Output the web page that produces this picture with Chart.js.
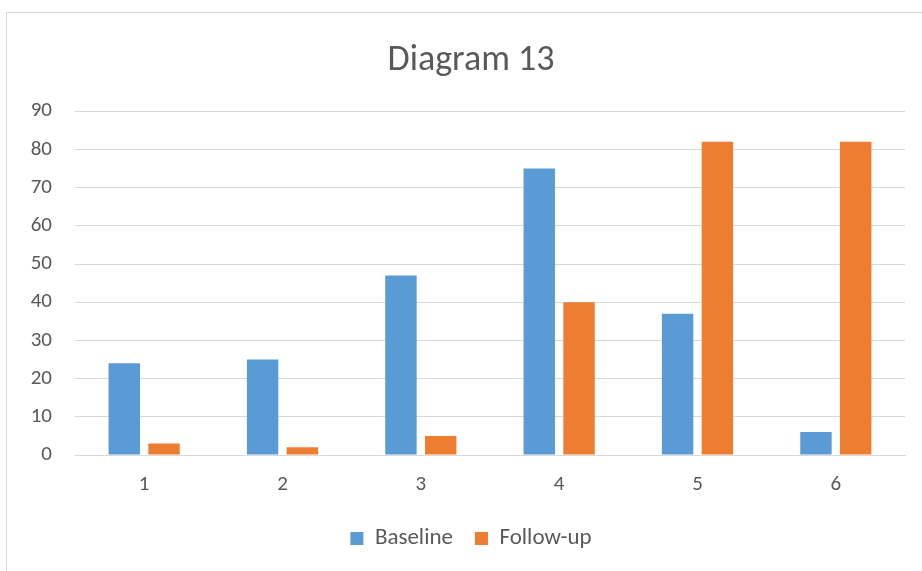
<!DOCTYPE html>
<html>
<head>
<meta charset="utf-8">
<script src="https://cdn.jsdelivr.net/npm/chart.js@4/dist/chart.umd.min.js"></script>
<style>
  html, body { margin: 0; padding: 0; background: #ffffff; }
  #wrap { position: relative; width: 922px; height: 571px; overflow: hidden; background: #fff; }
  #frame { position: absolute; left: 6px; top: 12px; width: 1000px; height: 1000px; border-left: 1px solid #D9D9D9; border-top: 1px solid #D9D9D9; }
  #c { position: absolute; left: 0; top: 0; }
</style>
</head>
<body>
<div id="wrap">
  <div id="frame"></div>
  <canvas id="c" width="922" height="571"></canvas>
</div>
<script>
const categories = ["1", "2", "3", "4", "5", "6"];
const baseline = [24, 25, 47, 75, 37, 6];
const followUp = [3, 2, 5, 40, 82, 82];
const seriesNames = ["Baseline", "Follow-up"];
const titleText = "Diagram 13";

const FONT = "Carlito, Calibri, Lato, 'Open Sans', sans-serif";
const TEXT = "#595959";
const GRID = "#D9D9D9";

new Chart(document.getElementById("c"), {
  type: "bar",
  data: {
    labels: categories,
    datasets: [
      { label: seriesNames[0], data: baseline, backgroundColor: "#5B9BD5", borderWidth: 0,
        categoryPercentage: 0.575, barPercentage: 0.79 },
      { label: seriesNames[1], data: followUp, backgroundColor: "#ED7D31", borderWidth: 0,
        categoryPercentage: 0.575, barPercentage: 0.79 }
    ]
  },
  options: {
    responsive: false,
    animation: false,
    layout: { padding: { left: 20, right: 0, top: 0, bottom: 11 } },
    plugins: {
      title: {
        display: true, text: titleText, color: TEXT,
        font: { family: FONT, size: 36, weight: "normal" },
        padding: { top: 39, bottom: 29 }
      },
      legend: {
        position: "bottom",
        labels: {
          color: TEXT, boxWidth: 13, boxHeight: 13, padding: 22,
          font: { family: FONT, size: 23 }
        }
      },
      tooltip: { enabled: false }
    },
    scales: {
      x: {
        grid: { display: false, drawTicks: false },
        border: { display: true, color: GRID, width: 1 },
        ticks: { color: TEXT, font: { family: FONT, size: 21 }, padding: 17 },
        afterFit: (s) => { s.height = 50; }
      },
      y: {
        min: 0, max: 90,
        ticks: { stepSize: 10, color: TEXT, font: { family: FONT, size: 21 }, padding: 23 },
        grid: { color: GRID, lineWidth: 1, drawTicks: false },
        border: { display: false },
        afterFit: (s) => { s.width = 55; }
      },
      yRightSpacer: {
        type: "linear", position: "right", min: 0, max: 90,
        grid: { display: false, drawTicks: false },
        border: { display: false },
        ticks: { display: false },
        afterFit: (s) => { s.width = 17; }
      }
    }
  }
});
</script>
</body>
</html>
